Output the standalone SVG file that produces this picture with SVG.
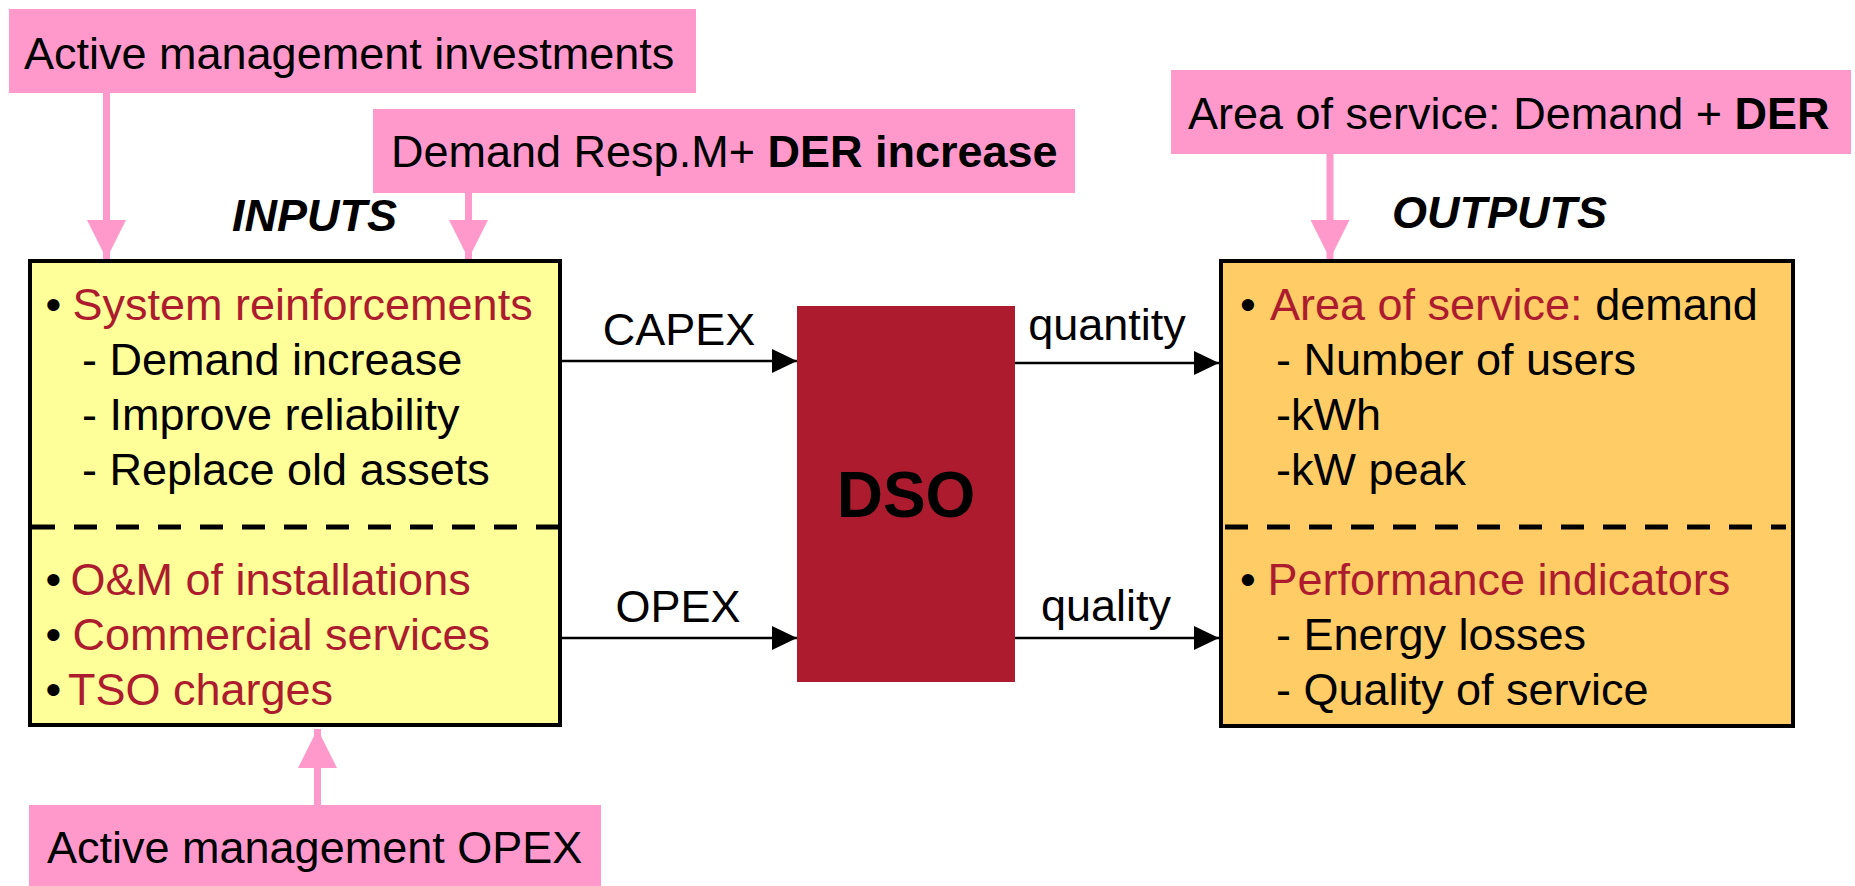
<svg xmlns="http://www.w3.org/2000/svg" width="1855" height="886" viewBox="0 0 1855 886">
<defs>
<style>
text{font-family:"Liberation Sans",Arial,Helvetica,sans-serif;font-size:45px;fill:#000}
.red{fill:#AD1B2E}
.b{font-weight:bold}
.pink{fill:#FF99CC}
.pinkline{stroke:#FF99CC;stroke-width:7;fill:none}
.conn{stroke:#000;stroke-width:2.5;fill:none}
.dash{stroke:#000;stroke-width:5;stroke-dasharray:23 19;fill:none}
.hdr{font-weight:bold;font-style:italic}
</style>
<marker id="ah" viewBox="0 0 25 24" refX="25" refY="12" markerWidth="25" markerHeight="24" markerUnits="userSpaceOnUse" orient="auto">
<path d="M0,0 L25,12 L0,24 Z" fill="#000"/>
</marker>
<marker id="ph" viewBox="0 0 40 39" refX="39" refY="19.5" markerWidth="40" markerHeight="39" markerUnits="userSpaceOnUse" orient="auto">
<path d="M0,0 L39,19.5 L0,39 Z" fill="#FF99CC"/>
</marker>
</defs>
<rect width="1855" height="886" fill="#fff"/>

<g id="inputs">
<rect x="30" y="261" width="530" height="464" fill="#FFFF99" stroke="#000" stroke-width="4"/>
<line class="dash" x1="32" y1="527" x2="558" y2="527"/>
<text x="45.5" y="320">•</text><text x="72.5" y="320" class="red">System reinforcements</text>
<text x="82" y="375">- Demand increase</text>
<text x="82" y="430">- Improve reliability</text>
<text x="82" y="485">- Replace old assets</text>
<text x="45.5" y="595">•</text><text x="70.5" y="595" class="red">O&amp;M of installations</text>
<text x="45.5" y="650">•</text><text x="72.5" y="650" class="red">Commercial services</text>
<text x="45.5" y="705">•</text><text x="68" y="705" class="red">TSO charges</text>
</g>
<text id="inputs-title" x="232" y="231" class="hdr">INPUTS</text>

<g id="outputs">
<rect x="1221" y="261" width="572" height="465" fill="#FFCC66" stroke="#000" stroke-width="4"/>
<line class="dash" x1="1225" y1="527" x2="1786" y2="527"/>
<text x="1240" y="320">•</text><text x="1270" y="320"><tspan class="red">Area of service:</tspan> demand</text>
<text x="1276" y="375">- Number of users</text>
<text x="1276" y="430">-kWh</text>
<text x="1276" y="485">-kW peak</text>
<text x="1240" y="595">•</text><text x="1267.5" y="595" class="red">Performance indicators</text>
<text x="1276" y="650">- Energy losses</text>
<text x="1276" y="705">- Quality of service</text>
</g>
<text id="outputs-title" x="1392" y="228" class="hdr">OUTPUTS</text>

<g id="dso">
<rect x="797" y="306" width="218" height="376" fill="#AD1B2E"/>
<text x="906" y="517" text-anchor="middle" class="b" style="font-size:64px">DSO</text>
</g>

<g id="ami">
<rect class="pink" x="9" y="9" width="687" height="84"/>
<text x="24" y="69">Active management investments</text>
</g>
<g id="drm">
<rect class="pink" x="373" y="109" width="702" height="84"/>
<text x="391" y="167">Demand Resp.M+ <tspan class="b">DER increase</tspan></text>
</g>
<g id="aos">
<rect class="pink" x="1171" y="70" width="680" height="84"/>
<text x="1188" y="129">Area of service: Demand + <tspan class="b">DER</tspan></text>
</g>
<g id="amo">
<rect class="pink" x="29" y="805" width="572" height="81"/>
<text x="47" y="863">Active management OPEX</text>
</g>

<g id="connectors">
<line class="conn" x1="562" y1="361" x2="797" y2="361" marker-end="url(#ah)"/>
<line class="conn" x1="562" y1="638" x2="797" y2="638" marker-end="url(#ah)"/>
<line class="conn" x1="1015" y1="363" x2="1219" y2="363" marker-end="url(#ah)"/>
<line class="conn" x1="1015" y1="638" x2="1219" y2="638" marker-end="url(#ah)"/>
<text x="679" y="345" text-anchor="middle">CAPEX</text>
<text x="678" y="622" text-anchor="middle">OPEX</text>
<text x="1107" y="340" text-anchor="middle">quantity</text>
<text x="1106" y="621" text-anchor="middle">quality</text>
<line class="pinkline" x1="106.5" y1="93" x2="106.5" y2="259" marker-end="url(#ph)"/>
<line class="pinkline" x1="468.5" y1="193" x2="468.5" y2="259" marker-end="url(#ph)"/>
<line class="pinkline" x1="1330" y1="154" x2="1330" y2="259" marker-end="url(#ph)"/>
<line class="pinkline" x1="317.5" y1="805" x2="317.5" y2="729" marker-end="url(#ph)"/>
</g>
</svg>
